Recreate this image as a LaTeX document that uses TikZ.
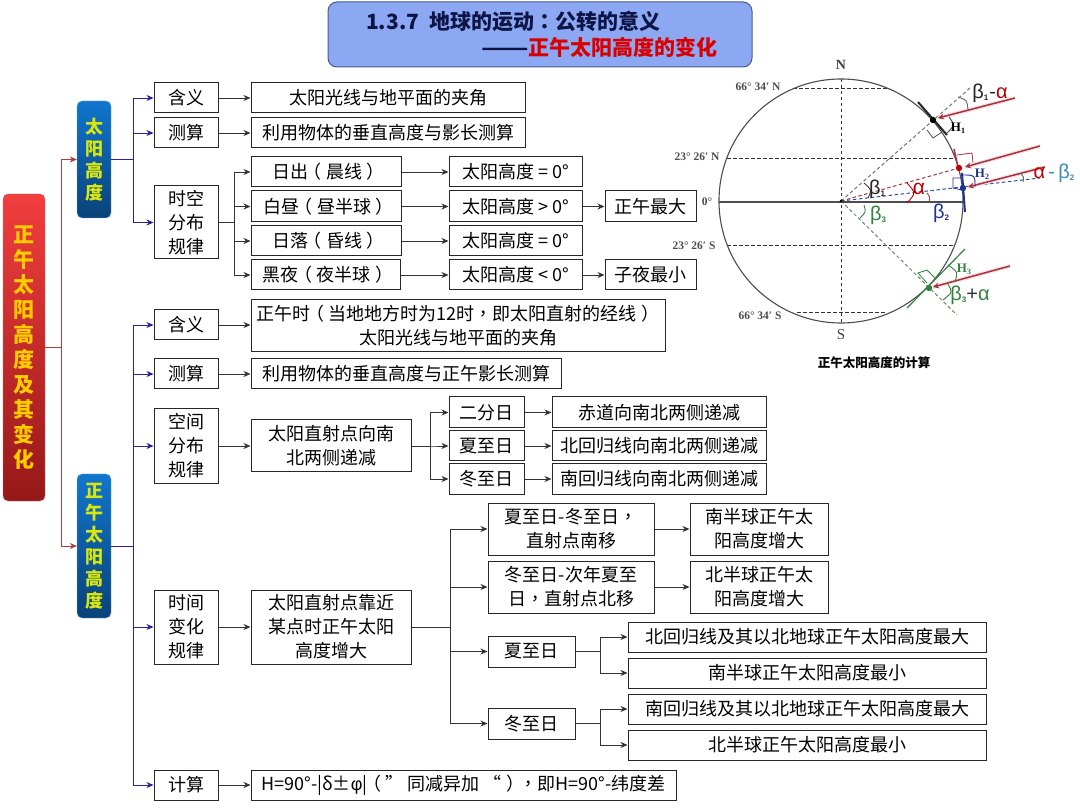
\documentclass[tikz,border=0pt]{standalone}
\usepackage{fontspec}
\setmainfont{Noto Sans CJK SC}
\newfontfamily\serfont{Liberation Serif}
\newfontfamily\gkfont{Liberation Sans}
\newfontfamily\tcfont{Noto Sans CJK TC}
\newcommand{\pu}[1]{{\tcfont #1}}
\newcommand{\lpr}{\hspace{-4.5pt}（\hspace{4.5pt}}
\newcommand{\rpr}{\hspace{4.5pt}）\hspace{-4.5pt}}
\newcommand{\sbs}[1]{\raisebox{-2pt}{\fontsize{8}{8}\selectfont\bfseries #1}}
\usetikzlibrary{arrows.meta}
\definecolor{Titleblue}{RGB}{140, 168, 242}
\definecolor{Titleline}{RGB}{70, 90, 140}
\definecolor{Titletext}{RGB}{14, 20, 70}
\definecolor{Rootred}{RGB}{242, 62, 62}
\definecolor{Rootdark}{RGB}{150, 24, 24}
\definecolor{Sunblue}{RGB}{16, 118, 205}
\definecolor{Sundark}{RGB}{10, 66, 120}
\definecolor{Linkblue}{RGB}{48, 32, 150}
\definecolor{Linkred}{RGB}{170, 60, 60}
\definecolor{Rayred}{RGB}{165, 50, 65}
\definecolor{Raypale}{RGB}{250, 225, 225}
\definecolor{Navyb}{RGB}{30, 50, 150}
\definecolor{Greenb}{RGB}{50, 130, 60}
\definecolor{Tealb}{RGB}{60, 140, 180}
\tikzset{
  cbox/.style={draw=black!85, line width=1pt, inner sep=0pt, align=center, font=\fontsize{18}{25}\selectfont},
  rootbox/.style={draw=Rootdark!60, rounded corners=5pt, top color=Rootred, bottom color=Rootdark, inner sep=0pt, align=center,
    text=orange!40!yellow, font=\fontsize{21}{25}\selectfont\bfseries},
  sunbox/.style={draw=Sunblue!60, rounded corners=5pt, top color=Sunblue, bottom color=Sundark, inner sep=0pt, align=center,
    text=yellow!85!green, font=\fontsize{18}{22}\selectfont\bfseries},
  link/.style={draw=black!80, line width=0.8pt, -{Stealth[length=7pt,width=6pt]}},
  linkb/.style={draw=Linkblue, line width=0.8pt, -{Stealth[length=7pt,width=6pt]}},
  linkr/.style={draw=Linkred, line width=0.8pt, -{Stealth[length=7pt,width=6pt]}},
  gridline/.style={draw=black!80, line width=1pt, dash pattern=on 3.5pt off 2.5pt},
  raydash/.style={line width=1pt, dash pattern=on 3.5pt off 2.5pt},
  ray/.style={draw=Rayred, line width=1.5pt, -{Stealth[length=6pt,width=6pt]}, preaction={draw=Raypale, line width=4pt, -}},
  lat/.style={inner sep=0pt, text=black!70, font=\serfont\bfseries\fontsize{11.5}{12}\selectfont},
  gk/.style={inner sep=0pt, font=\gkfont\fontsize{20}{21}\selectfont},
  hh/.style={inner sep=0pt, font=\serfont\bfseries\fontsize{13}{14}\selectfont},
}
\begin{document}
\begin{tikzpicture}[x=1pt,y=-1pt]
\useasboundingbox (0,0) rectangle (1080,810);
% title
\node[draw=Titleline, line width=1pt, fill=Titleblue, rounded corners=9pt, minimum width=424pt, minimum height=65pt] (title) at (540,34.5) {};
\node[anchor=west, inner sep=0pt, text=Titletext, font=\fontsize{21}{22}\selectfont\bfseries] (title1) at (366,22) {1.3.7\ \ \hspace{1pt}地球的运动\pu{：}公转的意义};
\node[anchor=west, inner sep=0pt, text=Titletext, font=\fontsize{21}{22}\selectfont\bfseries] (title2) at (481,47) {\scalebox{1.32}[1]{——}\textcolor{red!85!black}{正午太阳高度的变化}};
% left column
\node[rootbox, minimum width=42pt, minimum height=307pt] (root) at (24,347.5) {正\\午\\太\\阳\\高\\度\\及\\其\\变\\化};
\node[sunbox, minimum width=34pt, minimum height=117pt] (sun) at (94,159.5) {太\\阳\\高\\度};
\node[sunbox, minimum width=34pt, minimum height=144pt] (noon) at (94,546) {正\\午\\太\\阳\\高\\度};
% upper part
\node[cbox, minimum width=64pt, minimum height=30pt] (mean) at (186,98) {含义};
\node[cbox, minimum width=64pt, minimum height=30pt] (calc) at (186,133) {测算};
\node[cbox, minimum width=64pt, minimum height=73pt, font=\fontsize{18}{24}\selectfont] (dist) at (186,222.5) {时空\\分布\\规律};
\node[cbox, minimum width=274pt, minimum height=30pt] (meantxt) at (388,98) {太阳光线与地平面的夹角};
\node[cbox, minimum width=274pt, minimum height=30pt] (calctxt) at (388,133) {利用物体的垂直高度与影长测算};
\node[cbox, minimum width=150pt, minimum height=30pt] (rise) at (326,172) {日出\lpr 晨线\rpr};
\node[cbox, minimum width=150pt, minimum height=31pt] (day) at (326,206.5) {白昼\lpr 昼半球\rpr};
\node[cbox, minimum width=150pt, minimum height=30pt] (sunset) at (326,241) {日落\lpr 昏线\rpr};
\node[cbox, minimum width=149pt, minimum height=30pt] (night) at (325.5,275) {黑夜\lpr 夜半球\rpr};
\node[cbox, minimum width=133pt, minimum height=30pt] (ha) at (515.5,172) {太阳高度 = 0°};
\node[cbox, minimum width=133pt, minimum height=31pt] (hb) at (515.5,206.5) {太阳高度 > 0°};
\node[cbox, minimum width=133pt, minimum height=30pt] (hc) at (515.5,241) {太阳高度 = 0°};
\node[cbox, minimum width=133pt, minimum height=30pt] (hd) at (515.5,275) {太阳高度 < 0°};
\node[cbox, minimum width=91pt, minimum height=31pt] (maxnoon) at (650.5,206.5) {正午最大};
\node[cbox, minimum width=91pt, minimum height=30pt] (minnight) at (650.5,275) {子夜最小};
% lower part
\node[cbox, minimum width=64pt, minimum height=30pt] (mean2) at (186,325) {含义};
\node[cbox, minimum width=414pt, minimum height=52pt, font=\fontsize{18}{24}\selectfont] (meantxt2) at (458,326) {正午时\lpr 当地地方时为12时\pu{，}即太阳直射的经线\rpr\\太阳光线与地平面的夹角};
\node[cbox, minimum width=64pt, minimum height=30pt] (calc2) at (186,374) {测算};
\node[cbox, minimum width=310pt, minimum height=30pt] (calctxt2) at (406,374) {利用物体的垂直高度与正午影长测算};
\node[cbox, minimum width=64pt, minimum height=74pt, font=\fontsize{18}{24}\selectfont] (space) at (186,446) {空间\\分布\\规律};
\node[cbox, minimum width=160pt, minimum height=52pt, font=\fontsize{18}{24}\selectfont] (drop) at (331,446) {太阳直射点向南\\北两侧递减};
\node[cbox, minimum width=75pt, minimum height=31pt] (equi) at (486.5,412.5) {二分日};
\node[cbox, minimum width=75pt, minimum height=30pt] (summer) at (486.5,446) {夏至日};
\node[cbox, minimum width=75pt, minimum height=30pt] (winter) at (486.5,479) {冬至日};
\node[cbox, minimum width=214pt, minimum height=31pt] (equitxt) at (659,412.5) {赤道向南北两侧递减};
\node[cbox, minimum width=214pt, minimum height=30pt] (summertxt) at (659,446) {北回归线向南北两侧递减};
\node[cbox, minimum width=214pt, minimum height=30pt] (wintertxt) at (659,479) {南回归线向南北两侧递减};
\node[cbox, minimum width=64pt, minimum height=74pt, font=\fontsize{18}{24}\selectfont] (time) at (186,627) {时间\\变化\\规律};
\node[cbox, minimum width=160pt, minimum height=74pt, font=\fontsize{18}{24}\selectfont] (near) at (331,627) {太阳直射点靠近\\某点时正午太阳\\高度增大};
\node[cbox, minimum width=166pt, minimum height=52pt, font=\fontsize{18}{24}\selectfont] (south) at (571,529) {夏至日-冬至日\pu{，}\\直射点南移};
\node[cbox, minimum width=166pt, minimum height=52pt, font=\fontsize{18}{24}\selectfont] (north) at (571,587) {冬至日-次年夏至\\日\pu{，}直射点北移};
\node[cbox, minimum width=138pt, minimum height=52pt, font=\fontsize{18}{24}\selectfont] (southtxt) at (759,529) {南半球正午太\\阳高度增大};
\node[cbox, minimum width=138pt, minimum height=52pt, font=\fontsize{18}{24}\selectfont] (northtxt) at (759,587) {北半球正午太\\阳高度增大};
\node[cbox, minimum width=87pt, minimum height=31pt] (summer2) at (531.5,651.5) {夏至日};
\node[cbox, minimum width=87pt, minimum height=31pt] (winter2) at (531.5,723.5) {冬至日};
\node[cbox, minimum width=358pt, minimum height=30pt] (sa) at (807,637) {北回归线及其以北地球正午太阳高度最大};
\node[cbox, minimum width=358pt, minimum height=30pt] (sb) at (807,673) {南半球正午太阳高度最小};
\node[cbox, minimum width=358pt, minimum height=30pt] (wa) at (807,709) {南回归线及其以北地球正午太阳高度最大};
\node[cbox, minimum width=358pt, minimum height=30pt] (wb) at (807,745) {北半球正午太阳高度最小};
\node[cbox, minimum width=64pt, minimum height=30pt] (count) at (186,785) {计算};
\node[cbox, minimum width=425pt, minimum height=30pt] (counttxt) at (463.5,785) {H=90°-|δ±{\gkfont φ}|\lpr ” 同减异加 “\rpr\pu{，}即H=90°-纬度差};
% connectors
\foreach \to in {sun,noon}
  \draw[linkr] (root.east) -- ++(16,0) |- (\to.west);
\foreach \to in {mean,calc,dist}
  \draw[linkb] (sun.east) -- ++(22,0) |- (\to.west);
\foreach \to in {mean2,calc2,space,time,count}
  \draw[linkb] (noon.east) -- ++(22,0) |- (\to.west);
\foreach \from/\to in {mean/meantxt,calc/calctxt,rise/ha,day/hb,sunset/hc,night/hd,hb/maxnoon,hd/minnight,calc2/calctxt2,space/drop,time/near,count/counttxt,equi/equitxt,summer/summertxt,winter/wintertxt,south/southtxt,north/northtxt}
  \draw[link] (\from.east) -- (\to.west);
\draw[link] (mean2.east) -- (meantxt2.west |- mean2.east);
\foreach \to in {rise,day,sunset,night}
  \draw[link] (dist.east) -- ++(16,0) |- (\to.west);
\foreach \to in {equi,summer,winter}
  \draw[link] (drop.east) -- ++(19,0) |- (\to.west);
\foreach \to in {south,north,summer2,winter2}
  \draw[link] (near.east) -- ++(39,0) |- (\to.west);
\foreach \to in {sa,sb}
  \draw[link] (summer2.east) -- ++(25,0) |- (\to.west);
\foreach \to in {wa,wb}
  \draw[link] (winter2.east) -- ++(25,0) |- (\to.west);
% globe
\coordinate (O) at (841,201);
\coordinate (pa) at (933,120);
\coordinate (pb) at (959,168);
\coordinate (pc) at (963,188);
\coordinate (pd) at (929,288);
\draw[gridline] (841,79)--(841,322);
\draw[gridline] (793,89)--(887,89);
\draw[gridline] (727,159)--(953,159);
\draw[gridline] (727,246)--(953,246);
\draw[gridline] (797,313)--(885,313);
\draw[raydash, draw=black!55] (O)--(970,88);
\draw[raydash, draw=Rayred] (O)--(pb);
\draw[raydash, draw=Navyb!70!Tealb] (O)--(1040,178);
\draw[raydash, draw=Greenb!70!black!70] (O)--(957,315);
\draw[line width=1.1pt, draw=black!70] (O) circle [radius=122];
\draw[line width=1.2pt, draw=black!70] (719,202)--(963,202);
\draw[line width=2pt, draw=black!85] (918,102)--(947,135);
\draw[line width=1.5pt, draw=Rayred] (954,149)--(958,167);
\draw[line width=2pt, draw=Navyb] (962,173)--(965,212);
\draw[line width=1.2pt, draw=Greenb] (907,308)--(965,249);
% right angle marks
\draw[draw=black!70, line width=0.8pt] (927,130)--(933,138)--(942,132);
\draw[draw=Rayred, line width=0.8pt] (957,155)--(972,153)--(973,163);
\draw[draw=Navyb, line width=0.8pt] (962,178)--(953,178)--(953,188)--(962,190);
\draw[draw=Greenb, line width=0.8pt] (927,283)--(918,273)--(927,270)--(935,278);
% rays
\draw[ray] (1015,98)--(938,118);
\draw[ray] (1040,146)--(965,167);
\draw[ray] (1045,167)--(968,187);
\draw[ray] (1010,266)--(933,287);
\fill[black] (pa) circle [radius=3.2];
\fill[red!75!black] (pb) circle [radius=3.2];
\fill[Navyb] (pc) circle [radius=3.2];
\fill[Greenb] (pd) circle [radius=3.2];
\fill[black] (O) circle [radius=1.5];
% angle arcs
\draw[line width=0.9pt, draw=black!75] (864,183) .. controls (872,190) .. (868,198);
\draw[line width=0.9pt, draw=red!75!black] (907,183) .. controls (916,193) .. (907,203);
\draw[line width=0.9pt, draw=Rayred] (927,193) .. controls (930,197) .. (929,202);
\draw[line width=0.9pt, draw=Greenb] (864,205) .. controls (866,212) .. (860,218);
\draw[line width=0.9pt, draw=black!75] (949,117) .. controls (955,125) .. (947,133);
\draw[line width=0.9pt, draw=black!60] (958,97) .. controls (967,100) .. (968,110);
\draw[line width=0.9pt, draw=Navyb] (962,175) .. controls (975,175) .. (975,187);
\draw[line width=0.9pt, draw=black!60] (1020,173) .. controls (1024,177) .. (1023,182);
\draw[line width=0.9pt, draw=Greenb] (948,265) .. controls (958,272) .. (955,282);
\draw[line width=0.9pt, draw=Greenb] (947,283) .. controls (953,292) .. (943,300);
% globe labels
\node[inner sep=0pt, text=black!75, font=\serfont\bfseries\fontsize{14}{15}\selectfont] (lbN) at (841,65) {N};
\node[inner sep=0pt, text=black!75, font=\serfont\fontsize{15}{16}\selectfont] (lbS) at (841,335) {S};
\node[lat] (lbNa) at (758,87) {66° 34′ N};
\node[lat] (lbNb) at (697,157) {23° 26′ N};
\node[lat] (lbEq) at (707,202) {0°};
\node[lat] (lbSb) at (694,246) {23° 26′ S};
\node[lat] (lbSa) at (760,316) {66° 34′ S};
\node[gk, text=black!85] (lbBa) at (877,189) {β\sbs{1}};
\node[gk, text=red!75!black, font=\gkfont\fontsize{21}{22}\selectfont] (lbAl) at (919,189) {α};
\node[gk, text=Navyb] (lbBb) at (941,213) {β\sbs{2}};
\node[gk, text=Greenb] (lbBc) at (878,215) {β\sbs{3}};
\node[gk, text=black!85] (lbBaA) at (990,93) {β\sbs{1}\hspace{1pt}-\textcolor{red!70!black}{α}};
\node[gk, text=red!75!black] (lbAB) at (1054,173) {α\,\textcolor{Tealb}{-\,β\sbs{2}}};
\node[gk, text=Greenb] (lbBcA) at (970,295) {β\sbs{3}\textcolor{black!80}{+}α};
\node[hh, text=black] (lbHa) at (958,128) {H\sbs{1}};
\node[hh, text=Navyb] (lbHb) at (982,174) {H\sbs{2}};
\node[hh, text=Greenb] (lbHc) at (964,269) {H\sbs{3}};
\node[inner sep=0pt, font=\fontsize{12.5}{13}\selectfont\bfseries] (caption) at (874,363) {正午太阳高度的计算};
\end{tikzpicture}
\end{document}
